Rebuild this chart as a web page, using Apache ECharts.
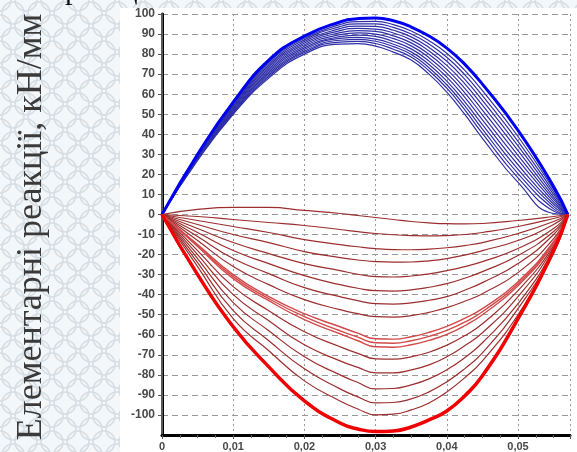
<!DOCTYPE html>
<html><head><meta charset="utf-8">
<script src="https://cdn.jsdelivr.net/npm/echarts@6/dist/echarts.min.js"></script>
<style>html,body{margin:0;padding:0;}#c{width:577px;height:452px;}</style>
</head><body><div id="c"></div>
<script>
// x positions (m) at which each curve was read
const xs = [0, 0.005, 0.01, 0.015, 0.02, 0.025, 0.0275, 0.03, 0.0325, 0.035, 0.0375, 0.04, 0.0425, 0.045, 0.05, 0.055, 0.057];

// blue (positive) curves, kN/mm
const blueTop = [0, 30, 56, 77, 89, 96, 97.7, 98, 96.6, 93.5, 89, 83, 75, 65, 42, 14, 0];
const blue2  = [0, 29.6, 55.3, 75.9, 87.9, 94.7, 96.2, 96.3, 94.7, 91.5, 86.7, 80.4, 72, 61.8, 38.9, 12.4, 0];
const blue3  = [0, 29.4, 54.7, 75.1, 87.1, 93.7, 95.1, 95.1, 93.3, 90, 85, 78.4, 69.8, 59.3, 36.5, 11.2, 0];
const blue4  = [0, 29.1, 54.2, 74.3, 86.3, 92.7, 94, 93.8, 91.9, 88.6, 83.3, 76.4, 67.5, 56.9, 34.2, 10, 0];
const blue5  = [0, 28.8, 53.7, 73.5, 85.5, 91.7, 92.8, 92.5, 90.5, 87.1, 81.6, 74.4, 65.3, 54.5, 31.9, 8.7, 0];
const blue6  = [0, 28.6, 53.1, 72.7, 84.7, 90.7, 91.7, 91.3, 89.1, 85.6, 79.9, 72.4, 63, 52, 29.5, 7.5, 0];
const blue7  = [0, 28.3, 52.6, 71.9, 83.9, 89.7, 90.6, 90, 87.7, 84.1, 78.2, 70.5, 60.8, 49.6, 27.2, 6.3, 0];
const blue8  = [0, 28, 52, 71.1, 83.1, 88.7, 89.5, 88.8, 86.3, 82.6, 76.5, 68.5, 58.5, 47.2, 24.8, 5.1, 0];
const blue9  = [0, 27.8, 51.5, 70.3, 82.3, 87.8, 88.3, 87.5, 84.9, 81.1, 74.8, 66.5, 56.3, 44.8, 22.5, 3.9, 0];
const blue10 = [0, 27.5, 51, 69.5, 81.5, 86.9, 87.3, 86.4, 83.7, 79.8, 73.2, 64.7, 54.3, 42.6, 20.4, 2.8, 0];
const blue11 = [0, 27.3, 50.5, 68.8, 80.8, 86, 86.3, 85.3, 82.4, 78.5, 71.7, 63, 52.3, 40.4, 18.3, 1.7, 0];
const blue12 = [0, 27, 50, 68, 80, 85, 85.2, 84, 81, 77, 70, 61, 50, 38, 16, 0.5, 0];

// red (negative) curves, kN/mm
const red1  = [0, 2.5, 3.5, 3.5, 2, 0.5, -0.5, -1.5, -2.5, -3.5, -4.2, -4.6, -4.7, -4.5, -3, -1, 0];
const red2  = [0, -1, -2.5, -4, -5.5, -7.5, -8.6, -9.5, -10.1, -10.5, -10.7, -10.5, -10, -9, -6, -2, 0];
const red3  = [0, -3, -6, -9, -12.5, -15, -16.1, -17, -17.5, -17.6, -17.3, -16.6, -15.5, -14, -9.5, -3.5, 0];
const red4  = [0, -5, -10, -14, -18.5, -21.5, -22.7, -23.5, -23.8, -23.7, -23.1, -22, -20.3, -18, -13, -5, 0];
const red5  = [0, -7, -14, -19.5, -24.5, -28, -29.8, -31, -31.2, -30.7, -29.6, -28, -26, -23.5, -17, -7, 0];
const red6  = [0, -9, -18, -24.5, -30.5, -35, -36.8, -38, -38.2, -37.6, -36.3, -34.5, -31.8, -28.5, -20.5, -8.5, 0];
const red7  = [0, -11, -22, -29.5, -36.5, -41, -43, -44.5, -44.7, -44.1, -42.8, -41, -37.8, -34, -24.5, -10, 0];
const red8  = [0, -13, -26, -35, -42.5, -47.5, -49.5, -51, -51.2, -50.5, -48.8, -46.5, -43.3, -39.5, -29, -12, 0];
const red9  = [0, -15, -30, -41, -49.5, -56, -59.2, -62, -62.2, -61, -58.8, -55.8, -51.8, -47, -33.5, -13.5, 0];
const red10 = [0, -15.5, -31, -42, -51, -58, -61.2, -64, -64.2, -63, -60.8, -57.8, -53.7, -48.5, -34.5, -14, 0];
const red11 = [0, -16, -32, -43, -52.5, -59.5, -63, -66, -66.2, -65, -62.8, -59.8, -55.5, -50, -35.5, -14.5, 0];
const red12 = [0, -18, -36, -48, -58.5, -66, -69.3, -72, -72.2, -71, -68.7, -65.2, -60.5, -54.5, -38, -15.5, 0];
const red13 = [0, -20, -40, -53, -65, -73, -76.3, -79, -79, -77.5, -75, -71, -65.5, -59, -41, -16.5, 0];
const red14 = [0, -22, -44, -58, -71, -80, -83.8, -87, -86.8, -85, -82, -77.5, -71.5, -64, -44.5, -17.5, 0];
const red15 = [0, -24, -48, -63, -77, -87, -91, -94, -93.8, -92, -88.5, -83.5, -77, -69, -47, -18.5, 0];
const red16 = [0, -26, -52, -68, -83, -93, -97, -100, -99.6, -97.5, -94, -88.5, -81.5, -73, -50, -19.5, 0];
const redBottom = [0, -30, -56, -76, -93, -104, -107, -108.3, -108, -106, -102.5, -98, -90.5, -80.5, -52, -18, 0];

const yTitle = 'Елементарні реакції, кН/мм';
const topText = 'реакцією';

// decorative background pattern
(function(){
  const cv = document.createElement('canvas');
  cv.width = 26; cv.height = 26;
  const g = cv.getContext('2d');
  g.fillStyle = '#f4f7f9'; g.fillRect(0,0,26,26);
  g.strokeStyle = '#d6dee4'; g.lineWidth = 1.6;
  const pts = [[0,0],[26,0],[0,26],[26,26],[13,13]];
  pts.forEach(p => { g.beginPath(); g.ellipse(p[0], p[1], 11, 11, 0, 0, Math.PI*2); g.stroke(); });
  document.body.style.background = 'url(' + cv.toDataURL() + ')';
})();

const chart = echarts.init(document.getElementById('c'), null, {renderer: 'canvas'});

function mk(vals) { return xs.map((x, i) => [x, vals[i]]); }

const blueThin = [blue2, blue3, blue4, blue5, blue6, blue7, blue8, blue9, blue10, blue11, blue12];
const redThin = [red1, red2, red3, red4, red5, red6, red7, red8, red12, red13, red14, red15, red16];
const redCluster = [red9, red10, red11];

const series = [];
blueThin.forEach(v => series.push({type: 'line', data: mk(v), smooth: 0.5, symbol: 'none',
  lineStyle: {color: '#2f2fa8', width: 1.2}, z: 2}));
series.push({type: 'line', data: mk(blueTop), smooth: 0.5, symbol: 'none',
  lineStyle: {color: '#0000f0', width: 3}, z: 3});
redThin.forEach(v => series.push({type: 'line', data: mk(v), smooth: 0.5, symbol: 'none',
  lineStyle: {color: '#9c2e2e', width: 1.2}, z: 4}));
redCluster.forEach(v => series.push({type: 'line', data: mk(v), smooth: 0.5, symbol: 'none',
  lineStyle: {color: '#d24a4a', width: 1.4}, z: 4}));
series.push({type: 'line', data: mk(redBottom), smooth: 0.5, symbol: 'none',
  lineStyle: {color: '#f00000', width: 3.5}, z: 5});

chart.setOption({
  animation: false,
  backgroundColor: 'transparent',
  grid: {left: 162, right: 7, top: 14, bottom: 17, containLabel: false},
  xAxis: {
    type: 'value', min: 0, max: 0.0573, interval: 0.01,
    axisLine: {show: true, lineStyle: {color: '#000', width: 3}, onZero: false},
    axisTick: {show: true, length: 4, lineStyle: {color: '#555'}},
    minorTick: {show: true, splitNumber: 4, length: 3, lineStyle: {color: '#666'}},
    axisLabel: {showMaxLabel: false, margin: 6, color: '#4a4a4a', fontFamily: 'Liberation Sans, Arial', fontSize: 11, fontWeight: 'bold',
      formatter: v => v === 0 ? '0' : v.toFixed(2).replace('.', ',')},
    splitLine: {show: true, lineStyle: {color: '#999', type: [2, 3], width: 1}}
  },
  yAxis: [{
    type: 'value', min: -110, max: 100, interval: 10,
    axisLine: {show: true, lineStyle: {color: '#000', width: 3}, onZero: false},
    axisTick: {show: true, length: 4, lineStyle: {color: '#555'}},
    axisLabel: {showMinLabel: false, margin: 7, color: '#4a4a4a', fontFamily: 'Liberation Sans, Arial', fontSize: 12, fontWeight: 'bold'},
    splitLine: {show: true, lineStyle: {color: '#999', type: [6, 4], width: 1}}
  }, {
    type: 'value', min: -110, max: 100, interval: 10, position: 'right',
    axisLine: {show: true, lineStyle: {color: '#777', width: 1.5}},
    axisTick: {show: false}, axisLabel: {show: false}, splitLine: {show: false}
  }],
  graphic: [
    {type: 'rect', shape: {x: 120, y: 8, width: 457, height: 444}, style: {fill: '#ffffff'}, z: -10, silent: true},
    {type: 'text', x: 32, y: 227, rotation: Math.PI / 2,
      style: {text: yTitle, fill: '#3a3a3a', font: '36px "Liberation Serif", "Times New Roman", serif', align: 'center', verticalAlign: 'middle'}},
    {type: 'text', x: 65, y: -9,
      style: {text: topText, fill: '#111', font: '30px "Liberation Serif", "Times New Roman", serif', align: 'left', verticalAlign: 'middle'}}
  ],
  series: series
});
</script></body></html>
